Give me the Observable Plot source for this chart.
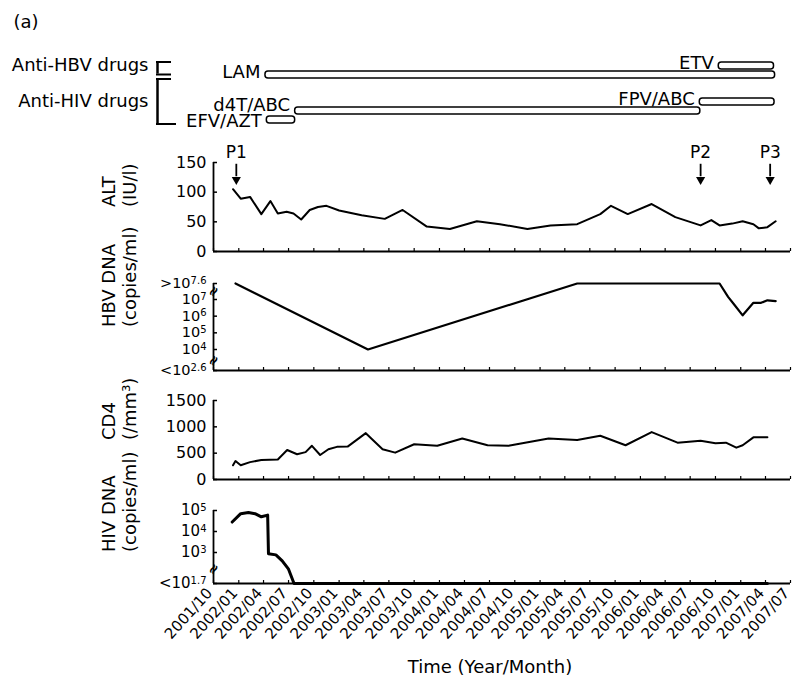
<!DOCTYPE html>
<html><head><meta charset="utf-8">
<script src="https://cdn.jsdelivr.net/npm/d3@7"></script>
<script src="https://cdn.jsdelivr.net/npm/@observablehq/plot@0.6"></script>
<style>
body{margin:0;background:#fff;}
#fig{position:relative;width:794px;height:684px;overflow:hidden;background:#fff;font-family:"DejaVu Sans";}
#fig svg{position:absolute;left:0;}
</style></head><body><div id="fig"></div>
<script>
// ---------- data ----------
const tickLabels = ["2001/10","2002/01","2002/04","2002/07","2002/10","2003/01","2003/04","2003/07","2003/10",
  "2004/01","2004/04","2004/07","2004/10","2005/01","2005/04","2005/07","2005/10","2006/01","2006/04",
  "2006/07","2006/10","2007/01","2007/04","2007/07"];

const drugNames = ["LAM","ETV","d4T/ABC","FPV/ABC","EFV/AZT"];
const drugStart = ["2002-04-08","2006-10-13","2002-07-25","2006-08-05","2002-04-13"];
const drugEnd   = ["2007-05-06","2007-05-02","2006-08-07","2007-05-04","2002-07-25"];
const drugRows  = ["ETV","LAM"," ","  ","FPV/ABC","d4T/ABC","EFV/AZT"];
const groupLabels = ["Anti-HBV drugs","Anti-HIV drugs"];

const pointLabels = ["P1","P2","P3"];
const pointDates  = ["2001-12-23","2006-08-08","2007-04-18"];

const altDates = ["2001-12-11","2002-01-08","2002-02-11","2002-03-24","2002-04-26","2002-05-23","2002-06-24",
  "2002-07-19","2002-08-16","2002-09-16","2002-10-16","2002-11-16","2003-01-01","2003-03-24","2003-06-16",
  "2003-08-20","2003-11-16","2004-02-08","2004-05-16","2004-08-08","2004-11-16","2005-02-08","2005-05-16",
  "2005-08-08","2005-09-16","2005-11-16","2006-02-11","2006-05-08","2006-08-08","2006-09-16","2006-10-16",
  "2006-12-01","2007-01-08","2007-02-16","2007-03-08","2007-04-08","2007-05-08"];
const altValues = [105,89,92,63,85,64,67,64,54,70,75,77,69,61,55,70,42,38,51,46,38,44,46,63,77,63,80,58,44,53,44,47,51,46,39,41,51];

const hbvDates = ["2001-12-20","2003-04-16","2005-05-16","2006-10-16","2006-11-16","2006-12-08","2007-01-08",
  "2007-02-16","2007-03-16","2007-04-08","2007-05-08"];
const hbvLog10 = [7.6,4.0,7.6,7.6,7.1,6.7,6.05,6.8,6.8,6.95,6.9];
const hbvTicks = [2.6,4,5,6,7,7.6];
const hbvTickLabels = ["<10^2.6","10^4","10^5","10^6","10^7",">10^7.6"];

const cd4Dates = ["2001-12-11","2001-12-20","2002-01-08","2002-02-11","2002-03-24","2002-05-23","2002-06-26",
  "2002-08-01","2002-09-01","2002-09-24","2002-10-24","2002-11-23","2002-12-24","2003-02-01","2003-04-08",
  "2003-06-08","2003-07-24","2003-10-01","2003-12-24","2004-03-24","2004-06-24","2004-09-08","2005-02-01",
  "2005-05-16","2005-08-08","2005-11-08","2006-02-11","2006-05-16","2006-08-08","2006-10-01","2006-11-08",
  "2006-12-16","2007-01-08","2007-02-16","2007-04-08"];
const cd4Values = [270,350,270,330,370,380,560,480,520,640,465,575,620,625,880,575,510,670,640,780,650,640,780,750,830,650,900,700,735,690,700,605,650,800,800];

const hivDates = ["2001-12-08","2002-01-08","2002-02-05","2002-03-01","2002-03-24","2002-04-16","2002-04-19",
  "2002-05-16","2002-06-08","2002-07-01","2002-07-21","2002-10-24","2003-04-08","2003-10-01","2004-03-24",
  "2004-09-08","2005-02-01","2005-08-08","2006-02-11","2006-08-08","2007-01-08","2007-04-08"];
const hivLog10 = [4.45,4.85,4.9,4.85,4.7,4.78,2.95,2.9,2.65,2.3,1.7,1.7,1.7,1.7,1.7,1.7,1.7,1.7,1.7,1.7,1.7,1.7];
const hivTicks = [1.7,3,4,5];
const hivTickLabels = ["<10^1.7","10^3","10^4","10^5"];

// ---------- helpers ----------
const parseTick = s => new Date(Date.UTC(+s.slice(0,4), +s.slice(5,7)-1, 1));
const parseDay = s => new Date(s + "T00:00:00Z");
const xTicks = tickLabels.map(parseTick);
const x0 = xTicks[0], x1 = xTicks[xTicks.length-1];
const series = (dates, vals) => dates.map((d,i) => ({date: parseDay(d), v: vals[i]}));
const labelFor = (ticks, labels) => v => labels[ticks.indexOf(v)];

const fig = document.getElementById("fig");
const W = 794;
const style = {fontFamily: "DejaVu Sans", fontSize: "16px", color: "black", background: "transparent", overflow: "visible"};
const xOpt = {type: "utc", domain: [x0, x1]};

function superscript(svg) {
  const ns = "http://www.w3.org/2000/svg";
  svg.querySelectorAll("text").forEach(t => {
    if (t.children.length) return;
    const m = /^([<>]?10)\^(.+)$/.exec(t.textContent);
    if (!m) return;
    t.textContent = "";
    const a = document.createElementNS(ns, "tspan"); a.textContent = m[1];
    const b = document.createElementNS(ns, "tspan"); b.textContent = m[2];
    b.setAttribute("dy", "-0.45em"); b.setAttribute("font-size", "10px");
    t.append(a, b);
  });
}

function place(svg, top) { svg.style.top = top + "px"; superscript(svg); fig.append(svg); }

function panel(o) {
  const marks = [
    Plot.ruleY([o.yMin], {strokeWidth: 1.8}),
    Plot.ruleX([x0], {y1: o.yMin, y2: o.yMax, strokeWidth: 1.8}),
    Plot.axisX({ticks: xTicks, tickSize: -3, tickFormat: () => "", label: null, strokeWidth: 1.2}),
    Plot.axisY({ticks: o.ticks, tickSize: -4, tickFormat: () => "", label: null, strokeWidth: 1.5}),
    Plot.axisY({ticks: o.ticks, tickSize: 0, tickPadding: 7, tickFormat: o.fmt, label: null, fontSize: o.tickFont || 16}),
    Plot.text([o.title], {text: d => d, frameAnchor: "left", dx: -95, dy: o.titleDy, rotate: -90, fontSize: 18, lineHeight: 1.2}),
    ...(o.breaks || []).map(b => Plot.text([b], {x: () => x0, y: d => d, text: () => "≈", rotate: -60, fontSize: 14, fontWeight: "bold"})),
    ...o.marks
  ];
  const svg = Plot.plot({width: W, height: o.height, marginLeft: 213, marginRight: 4, marginTop: o.mt, marginBottom: o.mb,
    x: xOpt, y: o.y, style, marks});
  place(svg, o.top);
}

// ---------- drugs panel ----------
const drugs = drugNames.map((n,i) => ({name: n, start: parseDay(drugStart[i]), end: parseDay(drugEnd[i])}));
const drugText = (names, dy) => Plot.text(drugs, {filter: d => names.includes(d.name), x: "start", y: "name", text: "name",
  textAnchor: "end", dx: -5, dy, fontSize: 18});
const drugSvg = Plot.plot({
  width: W, height: 135, marginLeft: 213, marginRight: 4, marginTop: 57, marginBottom: 6.5,
  x: {...xOpt, axis: null},
  y: {type: "band", domain: drugRows, padding: 0.194, axis: null},
  style,
  marks: [
    Plot.barX(drugs, {x1: "start", x2: "end", y: "name", fill: "white", stroke: "black", strokeWidth: 1.5, rx: 3}),
    drugText(["LAM","ETV","FPV/ABC"], -3),
    drugText(["d4T/ABC"], -5.5),
    drugText(["EFV/AZT"], 1),
    Plot.text(groupLabels, {x: () => x0, y: (d,i) => ["ETV","FPV/ABC"][i], text: d => d, textAnchor: "end", dx: -65, dy: -1, fontSize: 18}),
    // brackets
    Plot.ruleX([["ETV","LAM"]], {x: () => x0, y1: d => d[0], y2: d => d[1], dx: -56, insetBottom: 4.4, strokeWidth: 2.5}),
    Plot.ruleX([["LAM","EFV/AZT"]], {x: () => x0, y1: d => d[0], y2: d => d[1], dx: -56, insetTop: 8, insetBottom: -0.5, strokeWidth: 2.5}),
    Plot.ruleY(["ETV"], {y: d => d, x1: () => x0, x2: () => x0, dx: -56, dy: -4, insetLeft: -1, insetRight: -14, strokeWidth: 2}),
    Plot.ruleY(["LAM"], {y: d => d, x1: () => x0, x2: () => x0, dx: -56, dy: -0.5, insetLeft: -1, insetRight: -14, strokeWidth: 2}),
    Plot.ruleY(["LAM"], {y: d => d, x1: () => x0, x2: () => x0, dx: -56, dy: 4, insetLeft: -1, insetRight: -14, strokeWidth: 2}),
    Plot.ruleY(["EFV/AZT"], {y: d => d, x1: () => x0, x2: () => x0, dx: -56, dy: 4, insetLeft: -1, insetRight: -19, strokeWidth: 2}),
    Plot.text(["(a)"], {text: d => d, frameAnchor: "top-left", dx: -200, dy: -42, fontSize: 18, textAnchor: "start"})
  ]
});
place(drugSvg, 0);

// ---------- ALT ----------
const pData = pointLabels.map((l,i) => ({label: l, date: parseDay(pointDates[i])}));
panel({top: 135, height: 122, mt: 27, mb: 6, y: {domain: [0,150]}, yMin: 0, yMax: 150,
  ticks: [0,50,100,150], fmt: d => String(d), title: "ALT\n(IU/l)", titleDy: 0,
  marks: [
    Plot.line(series(altDates, altValues), {x: "date", y: "v", stroke: "black", strokeWidth: 2}),
    Plot.ruleX(pData, {x: "date", y1: 147, y2: 126, strokeWidth: 1.8}),
    Plot.dot(pData, {x: "date", y: 121, symbol: "triangle", rotate: 180, r: 3.4, fill: "black"}),
    Plot.text(pData, {x: "date", y: 166, text: "label", fontSize: 17})
  ]});

// ---------- HBV DNA ----------
panel({top: 270, height: 106, mt: 13, mb: 6, y: {type: "linear", domain: [2.6,4,7,7.6], range: [100,79,29,13]},
  yMin: 2.6, yMax: 7.6, ticks: hbvTicks, fmt: labelFor(hbvTicks, hbvTickLabels), tickFont: 14.5,
  title: "HBV DNA\n(copies/ml)", titleDy: 0, breaks: [7.3, 3.25],
  marks: [Plot.line(series(hbvDates, hbvLog10), {x: "date", y: "v", stroke: "black", strokeWidth: 2.2})]});

// ---------- CD4 ----------
panel({top: 390, height: 95, mt: 10, mb: 6, y: {domain: [0,1500]}, yMin: 0, yMax: 1500,
  ticks: [0,500,1000,1500], fmt: d => String(d), title: "CD4\n(/mm³)", titleDy: 0,
  marks: [Plot.line(series(cd4Dates, cd4Values), {x: "date", y: "v", stroke: "black", strokeWidth: 2})]});

// ---------- HIV DNA ----------
panel({top: 500, height: 184, mt: 10, mb: 101, y: {type: "linear", domain: [1.7,3,5], range: [83,52,10]},
  yMin: 1.7, yMax: 5, ticks: hivTicks, fmt: labelFor(hivTicks, hivTickLabels), tickFont: 15,
  title: "HIV DNA\n(copies/ml)", titleDy: 5, breaks: [2.3],
  marks: [
    Plot.line(series(hivDates, hivLog10), {x: "date", y: "v", stroke: "black", strokeWidth: 3}),
    Plot.axisX({ticks: xTicks, tickSize: 0, tickPadding: 7, tickRotate: -48, dx: -4, tickFormat: d3.utcFormat("%Y/%m"), label: null, fontSize: 15}),
    Plot.text(["Time (Year/Month)"], {text: d => d, frameAnchor: "bottom", dx: -12, dy: 89, fontSize: 18})
  ]});
</script></body></html>
